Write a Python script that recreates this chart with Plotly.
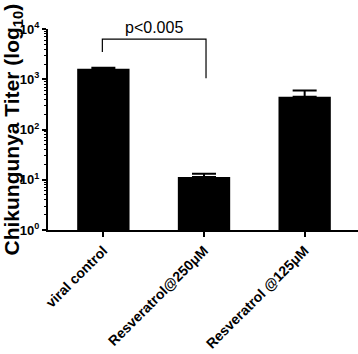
import plotly.graph_objects as go

categories = ["viral control", "Resveratrol@250μM", "Resveratrol @125μM"]
titers = [1620, 11.4, 446]
err_plus = [80, 1.7, 150]
tick_vals = [1, 10, 100, 1000, 10000]
tick_text = ["10<sup>0</sup>", "10<sup>1</sup>", "10<sup>2</sup>", "10<sup>3</sup>", "10<sup>4</sup>"]
sig_label = "p<0.005"
y_title = "Chikungunya Titer (log<sub>10</sub>)"

FONT = "Liberation Sans, Arial, sans-serif"

fig = go.Figure()
fig.add_trace(go.Bar(
    x=[0, 1, 2], y=titers, width=0.52,
    marker=dict(color="black", line=dict(color="black", width=0)),
    error_y=dict(type="data", array=err_plus, arrayminus=[0, 0, 0], symmetric=False,
                 color="black", thickness=2, width=12),
    showlegend=False,
))

# significance bracket
fig.add_trace(go.Scatter(
    x=[-0.01, -0.01, 1.02, 1.02], y=[10**3.54, 10**3.8, 10**3.8, 10**3.02],
    mode="lines", line=dict(color="black", width=1.2), showlegend=False, hoverinfo="skip",
    cliponaxis=False,
))
fig.add_annotation(x=0.5, xref="x", y=1.005, yref="paper", text=sig_label, showarrow=False,
                   font=dict(family=FONT, size=16, color="black"), yanchor="middle")

# y-axis title as rotated annotation
fig.add_annotation(x=0, xref="paper", y=0.5, yref="paper", xshift=-36,
                   text="<b>%s</b>" % y_title, textangle=-90, showarrow=False,
                   xanchor="center", yanchor="middle",
                   font=dict(family=FONT, size=21, color="black"))

fig.update_layout(
    width=358, height=354,
    margin=dict(l=48, r=0, t=29, b=124),
    plot_bgcolor="white", paper_bgcolor="white",
)
fig.update_xaxes(
    range=[-0.55, 2.53], tickvals=[0, 1, 2], ticktext=["<b>%s</b>" % c for c in categories],
    tickangle=-45, ticks="outside", ticklen=5, tickwidth=2, tickcolor="black",
    showline=True, linecolor="black", linewidth=2, showgrid=False, zeroline=False,
    tickfont=dict(family=FONT, size=14, color="black"), automargin=False,
)
fig.update_yaxes(
    type="log", range=[0, 4], tickvals=tick_vals, ticktext=["<b>%s</b>" % t for t in tick_text],
    ticks="outside", ticklen=4, tickwidth=2, tickcolor="black",
    minor=dict(ticks="outside", ticklen=2, tickwidth=1, tickcolor="black", dtick="D1"),
    showline=True, linecolor="black", linewidth=2, showgrid=False, zeroline=False,
    tickfont=dict(family=FONT, size=13, color="black"), automargin=False,
)

fig.write_html("out.html", config={"displayModeBar": False},
               post_script="document.body.style.margin='0';document.body.style.padding='0';")
